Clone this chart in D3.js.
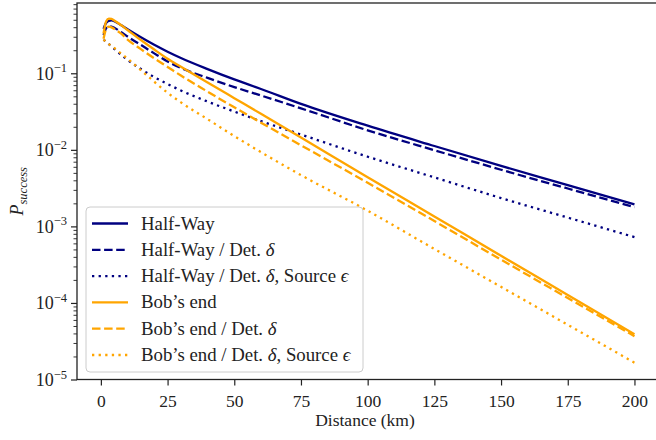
<!DOCTYPE html>
<html lang="en">
<head>
<meta charset="UTF-8">
<title>P success vs distance</title>
<script src="https://d3js.org/d3.v7.min.js"></script>
<style>
    body { margin: 0; background: #fff; }
    svg { display: block; font-family: "Liberation Serif", "DejaVu Serif", serif; }
</style>
</head>
<body>
<svg id="chart"></svg>
<script>
var distance = [1, 2, 3, 4, 5, 7.5, 10, 15, 20, 25, 30, 40, 50, 60, 75, 100, 125, 150, 175, 200];

// log10 of P_success for each series
var halfWay        = [-0.42, -0.34, -0.315, -0.31, -0.32, -0.37, -0.425, -0.53, -0.628, -0.718, -0.80, -0.945, -1.08, -1.205, -1.40, -1.685, -1.95, -2.21, -2.46, -2.713];
var halfWayDet     = [-0.50, -0.41, -0.385, -0.39, -0.405, -0.46, -0.52, -0.63, -0.74, -0.845, -0.93, -1.06, -1.18, -1.29, -1.458, -1.745, -2.005, -2.26, -2.505, -2.748];
var halfWayDetSrc  = [-0.56, -0.59, -0.62, -0.65, -0.68, -0.755, -0.825, -0.945, -1.05, -1.14, -1.225, -1.37, -1.50, -1.625, -1.80, -2.09, -2.36, -2.63, -2.885, -3.14];
var bobEnd         = [-0.48, -0.32, -0.285, -0.29, -0.31, -0.37, -0.435, -0.565, -0.69, -0.81, -0.915, -1.12, -1.325, -1.53, -1.84, -2.358, -2.87, -3.385, -3.895, -4.408];
var bobEndDet      = [-0.55, -0.42, -0.39, -0.40, -0.42, -0.48, -0.56, -0.685, -0.805, -0.917, -1.03, -1.24, -1.445, -1.645, -1.94, -2.43, -2.93, -3.435, -3.935, -4.434];
var bobEndDetSrc   = [-0.56, -0.59, -0.62, -0.645, -0.67, -0.74, -0.81, -0.96, -1.11, -1.255, -1.38, -1.60, -1.82, -2.03, -2.33, -2.795, -3.295, -3.79, -4.285, -4.78];

var xTicks = [0, 25, 50, 75, 100, 125, 150, 175, 200];
var yExponents = [-5, -4, -3, -2, -1];

var series = [
    { name: "Half-Way", math: null, values: halfWay, color: "#000080", dash: null },
    { name: "Half-Way / Det. ", math: "δ", values: halfWayDet, color: "#000080", dash: "8.5,3.6" },
    { name: "Half-Way / Det. ", math: "δ", extra: ", Source ", math2: "ϵ", values: halfWayDetSrc, color: "#000080", dash: "2.3,4.3" },
    { name: "Bob’s end", math: null, values: bobEnd, color: "#FFA500", dash: null },
    { name: "Bob’s end / Det. ", math: "δ", values: bobEndDet, color: "#FFA500", dash: "8.5,3.6" },
    { name: "Bob’s end / Det. ", math: "δ", extra: ", Source ", math2: "ϵ", values: bobEndDetSrc, color: "#FFA500", dash: "2.3,4.3" }
];

var W = 656, H = 440;
var pLeft = 77, pRight = 661, pTop = 3, pBottom = 379.5;

var svg = d3.select("#chart").attr("width", W).attr("height", H);

var x = d3.scaleLinear().domain([-8.95, 209.95]).range([pLeft, pRight]);
var y = d3.scaleLog().domain([1e-5, Math.pow(10, -0.082)]).range([pBottom, pTop]);

// clip for curves
svg.append("clipPath").attr("id", "plot")
    .append("rect").attr("x", pLeft).attr("y", pTop).attr("width", pRight - pLeft).attr("height", pBottom - pTop);

var line = d3.line()
    .x(function(d) { return x(d[0]); })
    .y(function(d) { return y(Math.pow(10, d[1])); })
    .curve(d3.curveMonotoneX);

var curves = svg.append("g").attr("clip-path", "url(#plot)");
series.forEach(function(s) {
    var pts = distance.map(function(dv, i) { return [dv, s.values[i]]; });
    curves.append("path")
        .attr("d", line(pts))
        .attr("fill", "none")
        .attr("stroke", s.color)
        .attr("stroke-width", 2.3)
        .attr("stroke-dasharray", s.dash)
        .attr("stroke-linejoin", "round");
});

// x axis
var xAxis = svg.append("g")
    .attr("transform", "translate(0," + pBottom + ")")
    .call(d3.axisBottom(x).tickValues(xTicks).tickSize(6).tickPadding(5).tickFormat(d3.format("d")));
xAxis.attr("font-family", null).attr("font-size", 17.5);
xAxis.select(".domain").remove();
xAxis.selectAll(".tick line").attr("stroke", "#222").attr("stroke-width", 1.2);
xAxis.selectAll(".tick text").attr("fill", "#222").attr("dy", "0.95em");

// y axis: minor ticks
var minors = [];
for (var e = -5; e <= -1; e++) {
    for (var m = 2; m <= 9; m++) {
        var v = m * Math.pow(10, e);
        if (v <= y.domain()[1]) minors.push(v);
    }
}
var yMinor = svg.append("g")
    .attr("transform", "translate(" + pLeft + ",0)")
    .call(d3.axisLeft(y).tickValues(minors).tickSize(3.5).tickFormat(""));
yMinor.select(".domain").remove();
yMinor.selectAll(".tick line").attr("stroke", "#222").attr("stroke-width", 0.9);

var majors = yExponents.map(function(e) { return Math.pow(10, e); });
var yMajor = svg.append("g")
    .attr("transform", "translate(" + pLeft + ",0)")
    .call(d3.axisLeft(y).tickValues(majors).tickSize(6).tickFormat(""));
yMajor.select(".domain").remove();
yMajor.selectAll(".tick line").attr("stroke", "#222").attr("stroke-width", 1.2);

// y tick labels as 10^e
yExponents.forEach(function(e) {
    var t = svg.append("text")
        .attr("x", pLeft - 10)
        .attr("y", y(Math.pow(10, e)) + 6.5)
        .attr("text-anchor", "end")
        .attr("fill", "#222")
        .attr("font-size", 18);
    t.append("tspan").text("10");
    t.append("tspan").attr("dy", -7.5).attr("font-size", 12.5).text("−" + Math.abs(e));
});

// spines
svg.append("rect")
    .attr("x", pLeft).attr("y", pTop)
    .attr("width", pRight - pLeft).attr("height", pBottom - pTop)
    .attr("fill", "none").attr("stroke", "#222").attr("stroke-width", 1.3);

// axis labels
svg.append("text")
    .attr("x", (pLeft + pRight) / 2 - 4)
    .attr("y", 426)
    .attr("text-anchor", "middle")
    .attr("font-size", 17.5)
    .attr("fill", "#222")
    .text("Distance (km)");

var yl = svg.append("text")
    .attr("transform", "translate(23," + ((pTop + pBottom) / 2) + ") rotate(-90)")
    .attr("text-anchor", "middle")
    .attr("font-size", 18)
    .attr("fill", "#222")
    .attr("font-style", "italic");
yl.append("tspan").text("P");
yl.append("tspan").attr("dy", 4).attr("font-size", 12.5).text("success");

// legend
var lg = svg.append("g");
lg.append("rect")
    .attr("x", 86).attr("y", 207)
    .attr("width", 277).attr("height", 165)
    .attr("rx", 4)
    .attr("fill", "#fff").attr("fill-opacity", 0.8)
    .attr("stroke", "#ccc").attr("stroke-width", 1);

series.forEach(function(s, i) {
    var cy = 223.5 + i * 26.3;
    lg.append("line")
        .attr("x1", 92).attr("x2", 128)
        .attr("y1", cy).attr("y2", cy)
        .attr("stroke", s.color)
        .attr("stroke-width", 2.3)
        .attr("stroke-dasharray", s.dash);
    var t = lg.append("text")
        .attr("x", 141).attr("y", cy + 6)
        .attr("font-size", 18.8)
        .attr("fill", "#222");
    t.append("tspan").text(s.name);
    if (s.math) t.append("tspan").attr("font-style", "italic").text(s.math);
    if (s.extra) t.append("tspan").text(s.extra);
    if (s.math2) t.append("tspan").attr("font-style", "italic").text(s.math2);
});
</script>
</body>
</html>
